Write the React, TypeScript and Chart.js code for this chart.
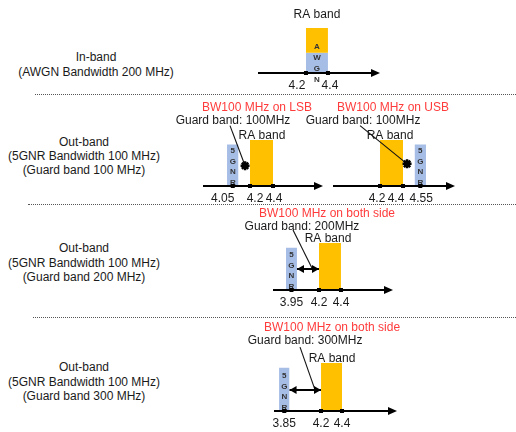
import React, { useEffect, useRef } from "react";
import { Chart, registerables } from "chart.js";

Chart.register(...registerables);

// ---------- data (GHz on the x axes, relative band height on the y axes) ----------
const RA_BAND = [4.2, 4.4];
const AWGN_BAND = [4.2, 4.4];
const NR_BANDWIDTH = 0.1;
const NR_CENTERS = [0, 4.05, 4.55, 3.95, 3.85];
const RA_HEIGHTS = [0.94, 1.0, 1.0, 0.98, 1.0];
const NOISE_HEIGHTS = [0.42, 0.9, 0.9, 0.88, 0.9];
const NOISE_LETTERS = ["AWGN", "5GNR", "5GNR", "5GNR", "5GNR"];
const AXIS_MIN = [3.764, 3.791, 3.791, 3.782, 3.752];
const AXIS_MAX = [4.873, 4.835, 4.852, 4.873, 4.924];
const TICK_VALUES = [
  [4.2, 4.4],
  [4.05, 4.2, 4.4],
  [4.2, 4.4, 4.55],
  [3.95, 4.2, 4.4],
  [3.85, 4.2, 4.4],
];
const TICK_LABELS = [
  ["4.2", "4.4"],
  ["4.05", "4.2", "4.4"],
  ["4.2", "4.4", "4.55"],
  ["3.95", "4.2", "4.4"],
  ["3.85", "4.2", "4.4"],
];
const PANEL_TITLES = ["", "BW100 MHz on LSB", "BW100 MHz on USB", "BW100 MHz on both side", "BW100 MHz on both side"];
const GUARD_LABELS = ["", "Guard band: 100MHz", "Guard band: 100MHz", "Guard band: 200MHz", "Guard band: 300MHz"];
const RA_LABEL = "RA band";
// guard-band marker (star) position: [GHz, height]
const GUARD_MARKER_X = [0, 4.157, 4.435, 0, 0];
const GUARD_MARKER_Y = [0, 0.44, 0.48, 0, 0];
// guard-band double arrow: from GHz, to GHz, height
const GUARD_ARROW_FROM = [0, 0, 0, 4.0, 3.9];
const GUARD_ARROW_TO = [0, 0, 0, 4.2, 4.2];
const GUARD_ARROW_Y = [0, 0, 0, 0.44, 0.44];
// leader line from the guard-band label to the marker / arrow
const LEADER_X0 = [0, 4.026, 4.026, 3.964, 4.0];
const LEADER_Y0 = [0, 1.31, 1.31, 1.25, 1.33];
const LEADER_X1 = [0, 4.157, 4.435, 4.136, 4.143];
const LEADER_Y1 = [0, 0.44, 0.48, 0.46, 0.44];
const ROW_LABELS = [
  ["In-band", "(AWGN Bandwidth 200 MHz)"],
  ["Out-band", "(5GNR Bandwidth 100 MHz)", "(Guard band 100 MHz)"],
  ["Out-band", "(5GNR Bandwidth 100 MHz)", "(Guard band 200 MHz)"],
  ["Out-band", "(5GNR Bandwidth 100 MHz)", "(Guard band 300 MHz)"],
];

// ---------- layout & style ----------
const W = 516;
const H = 432;
const UNIT = 48;
const FONT = '"Liberation Sans", Arial, Helvetica, sans-serif';
const ORANGE = "#FFC000";
const BLUE = "#A6BDE6";
const RED = "#FF3B3B";
const INK = "#1a1a1a";

const PANEL_BOX = [
  { top: 0, h: 95, axisY: 73, left: 258, right: 380, ymax: 1.4 },
  { top: 96, h: 112, axisY: 186, left: 203, right: 323, ymax: 1.8 },
  { top: 96, h: 112, axisY: 186, left: 333, right: 455, ymax: 1.8 },
  { top: 205, h: 108, axisY: 290, left: 273, right: 393, ymax: 1.7 },
  { top: 320, h: 112, axisY: 411, left: 274, right: 397, ymax: 1.8 },
];
const TEXT_POS = [
  { title: null, guard: null, ra: [4.3, 1.21] },
  { title: [4.261, 1.69], guard: [4.052, 1.42], ra: [4.304, 1.1] },
  { title: [4.313, 1.69], guard: [4.052, 1.42], ra: [4.287, 1.1] },
  { title: [4.273, 1.6], guard: [4.045, 1.31], ra: [4.282, 1.06] },
  { title: [4.305, 1.73], guard: [4.048, 1.46], ra: [4.305, 1.1] },
];
const TICK_DX = [
  [-9, 2],
  [-10, 5, 1],
  [-3, -7, 1],
  [0, 0, 0],
  [0, 0, 0],
];
const ROW_BOX = [
  { cx: 96, top: 50, lh: 15 },
  { cx: 84, top: 135, lh: 14 },
  { cx: 84, top: 241, lh: 14.5 },
  { cx: 84, top: 360, lh: 14.5 },
];
const SEPARATORS = [
  { y: 94, x: 35 },
  { y: 204, x: 28 },
  { y: 317, x: 33 },
];

function arrowHead(ctx: CanvasRenderingContext2D, tipX: number, tipY: number, dir: number, len: number, half: number) {
  ctx.beginPath();
  ctx.moveTo(tipX, tipY);
  ctx.lineTo(tipX - dir * len, tipY - half);
  ctx.lineTo(tipX - dir * len, tipY + half);
  ctx.closePath();
  ctx.fill();
}

function Panel({ idx }: { idx: number }) {
  const ref = useRef<HTMLCanvasElement | null>(null);
  useEffect(() => {
    const box = PANEL_BOX[idx];
    const padTop = box.axisY - box.ymax * UNIT - box.top;
    const padBottom = box.top + box.h - box.axisY;
    const noiseRange =
      idx === 0 ? AWGN_BAND : [NR_CENTERS[idx] - NR_BANDWIDTH / 2, NR_CENTERS[idx] + NR_BANDWIDTH / 2];
    const hasArrow = GUARD_ARROW_FROM[idx] > 0;
    const hasMarker = GUARD_MARKER_X[idx] > 0;
    const hasLeader = LEADER_X0[idx] > 0;

    const datasets: any[] = [];
    datasets.push({
      data: noiseRange.map((x) => ({ x, y: NOISE_HEIGHTS[idx] })),
      fill: "origin",
      backgroundColor: BLUE,
      borderWidth: 0,
      pointRadius: 0,
      order: 5,
    });
    datasets.push({
      data: RA_BAND.map((x) => ({ x, y: RA_HEIGHTS[idx] })),
      fill: idx === 0 ? { value: NOISE_HEIGHTS[0] } : "origin",
      backgroundColor: ORANGE,
      borderWidth: 0,
      pointRadius: 0,
      order: 4,
    });
    if (hasLeader) {
      datasets.push({
        data: [
          { x: LEADER_X0[idx], y: LEADER_Y0[idx] },
          { x: LEADER_X1[idx], y: LEADER_Y1[idx] },
        ],
        borderColor: "#111111",
        backgroundColor: "#111111",
        borderWidth: 1.1,
        pointRadius: 0,
        fill: false,
        showLine: true,
        order: 2,
      });
    }
    if (hasArrow) {
      datasets.push({
        data: [
          { x: GUARD_ARROW_FROM[idx], y: GUARD_ARROW_Y[idx] },
          { x: GUARD_ARROW_TO[idx], y: GUARD_ARROW_Y[idx] },
        ],
        borderColor: "#000",
        borderWidth: 2,
        pointRadius: 0,
        fill: false,
        order: 1,
      });
    }
    if (hasMarker) {
      datasets.push({
        data: [{ x: GUARD_MARKER_X[idx], y: GUARD_MARKER_Y[idx] }],
        showLine: false,
        pointStyle: "star",
        pointRadius: 4.5,
        borderColor: "#000",
        backgroundColor: "#000",
        pointBorderWidth: 2.5,
        borderWidth: 2.5,
        fill: false,
        order: 0,
      });
    }

    const overlay = {
      id: "diagramOverlay",
      afterDatasetsDraw(chart: any) {
        const { ctx, chartArea } = chart;
        const xs = chart.scales.x;
        const ys = chart.scales.y;
        const ay = ys.getPixelForValue(0);
        ctx.save();
        // noise letters
        const nMid = xs.getPixelForValue((noiseRange[0] + noiseRange[1]) / 2);
        ctx.fillStyle = "#333";
        ctx.textAlign = "center";
        ctx.textBaseline = "middle";
        ctx.font = `bold 8px ${FONT}`;
        NOISE_LETTERS[idx].split("").forEach((ch, i) => {
          const yy = idx === 0 ? ay - 26 + i * 11 : ay - 35 + i * 10.6;
          ctx.fillText(ch, nMid, yy);
        });
        // axis with arrow
        ctx.strokeStyle = "#000";
        ctx.fillStyle = "#000";
        ctx.lineWidth = 2;
        ctx.beginPath();
        ctx.moveTo(chartArea.left, ay);
        ctx.lineTo(chartArea.right - 6, ay);
        ctx.stroke();
        arrowHead(ctx, chartArea.right, ay, 1, 9, 4);
        // ticks
        ctx.font = `12px ${FONT}`;
        TICK_VALUES[idx].forEach((v, i) => {
          const px = xs.getPixelForValue(v);
          ctx.fillStyle = "#000";
          ctx.fillRect(px - 2, ay - 2, 4, 4);
          ctx.fillStyle = INK;
          ctx.fillText(TICK_LABELS[idx][i], px + TICK_DX[idx][i], ay + 13);
        });
        // guard arrow heads
        if (hasArrow) {
          const gy = ys.getPixelForValue(GUARD_ARROW_Y[idx]);
          ctx.fillStyle = "#000";
          arrowHead(ctx, xs.getPixelForValue(GUARD_ARROW_FROM[idx]), gy, -1, 7, 4);
          arrowHead(ctx, xs.getPixelForValue(GUARD_ARROW_TO[idx]), gy, 1, 7, 4);
        }
        // texts
        const tp = TEXT_POS[idx];
        ctx.font = `12px ${FONT}`;
        if (tp.title && PANEL_TITLES[idx]) {
          ctx.fillStyle = RED;
          ctx.fillText(PANEL_TITLES[idx], xs.getPixelForValue(tp.title[0]), ys.getPixelForValue(tp.title[1]));
        }
        if (tp.guard && GUARD_LABELS[idx]) {
          ctx.fillStyle = INK;
          ctx.fillText(GUARD_LABELS[idx], xs.getPixelForValue(tp.guard[0]), ys.getPixelForValue(tp.guard[1]));
        }
        ctx.fillStyle = INK;
        ctx.fillText(RA_LABEL, xs.getPixelForValue(tp.ra[0]), ys.getPixelForValue(tp.ra[1]));
        ctx.restore();
      },
    };

    const chart = new Chart(ref.current as HTMLCanvasElement, {
      type: "line",
      data: { datasets },
      options: {
        animation: false,
        responsive: false,
        devicePixelRatio: 1,
        events: [],
        layout: { padding: { left: box.left, right: W - box.right, top: padTop, bottom: padBottom } },
        plugins: { legend: { display: false }, tooltip: { enabled: false }, title: { display: false } },
        scales: {
          x: { type: "linear", min: AXIS_MIN[idx], max: AXIS_MAX[idx], display: false },
          y: { type: "linear", min: 0, max: box.ymax, display: false },
        },
        elements: { line: { tension: 0 } },
      },
      plugins: [overlay],
    } as any);
    return () => chart.destroy();
  }, [idx]);
  const box = PANEL_BOX[idx];
  return (
    <canvas
      ref={ref}
      width={W}
      height={box.h}
      style={{ position: "absolute", left: 0, top: box.top, width: W, height: box.h }}
    />
  );
}

export default function App() {
  return (
    <div
      style={{
        position: "absolute",
        left: 0,
        top: 0,
        width: W,
        height: H,
        background: "#fff",
        overflow: "hidden",
        fontFamily: FONT,
      }}
    >
      {SEPARATORS.map((s, i) => (
        <div
          key={"sep" + i}
          style={{
            position: "absolute",
            left: s.x,
            top: s.y,
            width: W - s.x,
            height: 0,
            borderTop: "1px dotted #555",
          }}
        />
      ))}
      {ROW_LABELS.map((lines, i) => (
        <div
          key={"row" + i}
          style={{
            position: "absolute",
            left: ROW_BOX[i].cx - 100,
            width: 200,
            top: ROW_BOX[i].top,
            textAlign: "center",
            fontSize: 12,
            lineHeight: ROW_BOX[i].lh + "px",
            color: INK,
          }}
        >
          {lines.map((t, j) => (
            <div key={j}>{t}</div>
          ))}
        </div>
      ))}
      {PANEL_BOX.map((_, i) => (
        <Panel key={i} idx={i} />
      ))}
    </div>
  );
}
